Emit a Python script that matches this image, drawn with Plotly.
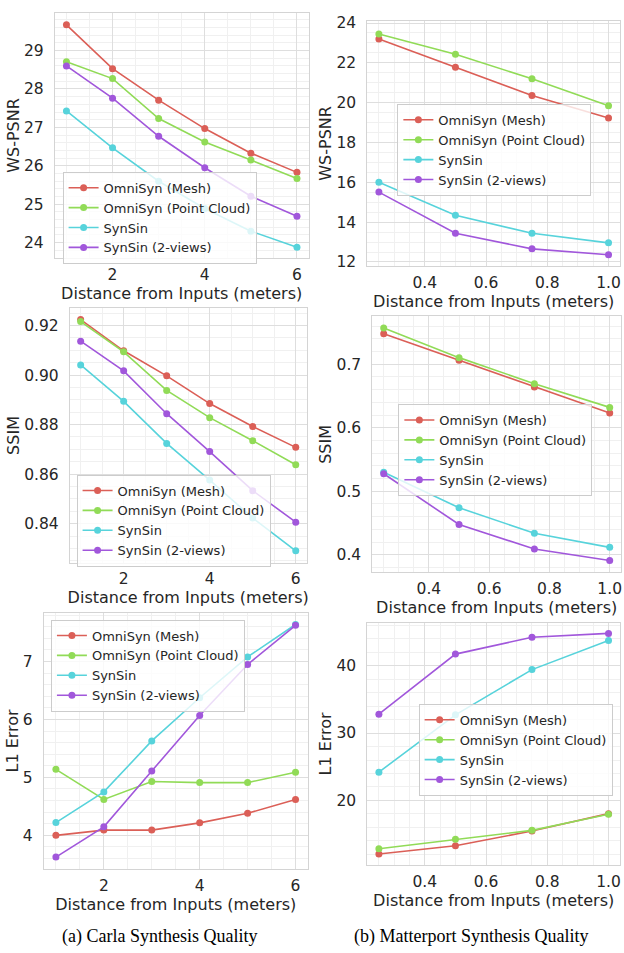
import plotly.graph_objects as go

# ---------------- data ----------------
series_names = ["OmniSyn (Mesh)", "OmniSyn (Point Cloud)", "SynSin", "SynSin (2-views)"]
colors = ["#db5f57", "#91db57", "#57d3db", "#a157db"]

carla_x = [1, 2, 3, 4, 5, 6]
matterport_x = [0.25, 0.5, 0.75, 1.0]

carla_wspsnr_mesh = [29.67, 28.53, 27.71, 26.97, 26.33, 25.83]
carla_wspsnr_pc = [28.71, 28.27, 27.23, 26.62, 26.15, 25.67]
carla_wspsnr_synsin = [27.43, 26.47, 25.60, 24.89, 24.30, 23.88]
carla_wspsnr_synsin2 = [28.60, 27.76, 26.77, 25.95, 25.21, 24.69]

mp_wspsnr_mesh = [23.20, 21.78, 20.36, 19.23]
mp_wspsnr_pc = [23.45, 22.43, 21.20, 19.84]
mp_wspsnr_synsin = [16.00, 14.35, 13.44, 12.96]
mp_wspsnr_synsin2 = [15.51, 13.44, 12.66, 12.36]

carla_ssim_mesh = [0.9224, 0.9098, 0.8997, 0.8885, 0.8792, 0.8708]
carla_ssim_pc = [0.9216, 0.9094, 0.8938, 0.8828, 0.8735, 0.8638]
carla_ssim_synsin = [0.9041, 0.8894, 0.8724, 0.8576, 0.8423, 0.8290]
carla_ssim_synsin2 = [0.9137, 0.9017, 0.8844, 0.8691, 0.8533, 0.8406]

mp_ssim_mesh = [0.7477, 0.7062, 0.6642, 0.6231]
mp_ssim_pc = [0.7570, 0.7103, 0.6693, 0.6320]
mp_ssim_synsin = [0.5300, 0.4741, 0.4340, 0.4118]
mp_ssim_synsin2 = [0.5276, 0.4477, 0.4092, 0.3910]

carla_l1_mesh = [4.00, 4.09, 4.09, 4.215, 4.38, 4.62]
carla_l1_pc = [5.14, 4.62, 4.93, 4.91, 4.91, 5.09]
carla_l1_synsin = [4.22, 4.75, 5.63, 6.375, 7.08, 7.64]
carla_l1_synsin2 = [3.625, 4.147, 5.11, 6.07, 6.95, 7.625]

mp_l1_mesh = [12.06, 13.28, 15.47, 18.05]
mp_l1_pc = [12.84, 14.25, 15.57, 17.95]
mp_l1_synsin = [24.2, 32.7, 39.4, 43.7]
mp_l1_synsin2 = [32.8, 41.7, 44.2, 44.77]

x_label = "Distance from Inputs (meters)"
captions = ["(a) Carla Synthesis Quality", "(b) Matterport Synthesis Quality"]

# ---------------- layout helpers ----------------
W, H = 624, 953
FONT = "DejaVu Sans"
TXT = "#262626"

def dx(l, r):
    return [l / W, r / W]

def dy(t, b):
    return [1 - b / H, 1 - t / H]

panels = [
    dict(x=carla_x, ys=[carla_wspsnr_mesh, carla_wspsnr_pc, carla_wspsnr_synsin, carla_wspsnr_synsin2],
         ylab="WS-PSNR", box=(55, 309, 7, 255), xr=[0.75, 6.25], yr=[23.6, 29.98],
         xd=2, xm=0.5, yd=1, ym=0.2, xf="d", yf="d", leg=(62.7, 167.7)),
    dict(x=matterport_x, ys=[mp_wspsnr_mesh, mp_wspsnr_pc, mp_wspsnr_synsin, mp_wspsnr_synsin2],
         ylab="WS-PSNR", box=(368, 621, 15, 263), xr=[0.2125, 1.0375], yr=[11.8, 24.11],
         xd=0.2, xm=0.05, yd=2, ym=0.5, xf=".1f", yf="d", leg=(398, 99)),
    dict(x=carla_x, ys=[carla_ssim_mesh, carla_ssim_pc, carla_ssim_synsin, carla_ssim_synsin2],
         ylab="SSIM", box=(70, 307, 306, 563), xr=[0.75, 6.25], yr=[0.8243, 0.9269],
         xd=2, xm=0.5, yd=0.02, ym=0.005, xf="d", yf=".2f", leg=(76.7, 474)),
    dict(x=matterport_x, ys=[mp_ssim_mesh, mp_ssim_pc, mp_ssim_synsin, mp_ssim_synsin2],
         ylab="SSIM", box=(373, 622, 314, 573), xr=[0.2125, 1.0375], yr=[0.3724, 0.7752],
         xd=0.2, xm=0.05, yd=0.1, ym=0.02, xf=".1f", yf=".1f", leg=(399, 402.7)),
    dict(x=carla_x, ys=[carla_l1_mesh, carla_l1_pc, carla_l1_synsin, carla_l1_synsin2],
         ylab="L1 Error", box=(44, 308, 614, 873), xr=[0.75, 6.25], yr=[3.42, 7.84],
         xd=2, xm=0.5, yd=1, ym=0.2, xf="d", yf="d", leg=(51, 620.7)),
    dict(x=matterport_x, ys=[mp_l1_mesh, mp_l1_pc, mp_l1_synsin, mp_l1_synsin2],
         ylab="L1 Error", box=(368, 621, 624, 869), xr=[0.2125, 1.0375], yr=[10.44, 46.34],
         xd=0.2, xm=0.05, yd=10, ym=2, xf=".1f", yf="d", leg=(419.3, 706)),
]

fig = go.Figure()
layout = dict(
    width=W, height=H,
    margin=dict(l=0, r=0, t=0, b=0),
    paper_bgcolor="white", plot_bgcolor="white",
    font=dict(family=FONT, color=TXT),
    showlegend=True,
)

for i, p in enumerate(panels, start=1):
    sfx = "" if i == 1 else str(i)
    xa, ya = "x" + sfx, "y" + sfx
    leg = "legend" + sfx
    for name, col, yv in zip(series_names, colors, p["ys"]):
        fig.add_trace(go.Scatter(
            x=p["x"], y=yv, name=name, mode="lines+markers",
            line=dict(color=col, width=1.6),
            marker=dict(color=col, size=7),
            xaxis=xa, yaxis=ya, legend=leg,
        ))
    l, r, t, b = p["box"]
    common = dict(
        showline=True, mirror=True, linecolor="#d4d4d4", linewidth=1.2,
        showgrid=True, gridcolor="#dedede", gridwidth=1,
        zeroline=False, ticks="",
        tickfont=dict(family=FONT, size=15.5, color=TXT),
    )
    layout["xaxis" + sfx] = dict(
        common, domain=dx(l, r), anchor=ya, range=p["xr"], ticklabelstandoff=2,
        tick0=0, dtick=p["xd"], tickformat=p["xf"],
        minor=dict(dtick=p["xm"], tick0=0, showgrid=True, gridcolor="#f0f0f0", gridwidth=1),
        title=dict(text=x_label, font=dict(family=FONT, size=16, color=TXT), standoff=1),
    )
    layout["yaxis" + sfx] = dict(
        common, domain=dy(t, b), anchor=xa, range=p["yr"], ticklabelstandoff=7,
        tick0=0, dtick=p["yd"], tickformat=p["yf"],
        minor=dict(dtick=p["ym"], tick0=0, showgrid=True, gridcolor="#f0f0f0", gridwidth=1),
        title=dict(text=p["ylab"], font=dict(family=FONT, size=16, color=TXT), standoff=0),
    )
    lx, lt = p["leg"]
    layout[leg] = dict(
        x=lx / W, y=1 - lt / H, xanchor="left", yanchor="top",
        xref="paper", yref="paper",
        bgcolor="rgba(255,255,255,0.8)", bordercolor="#cccccc", borderwidth=1,
        font=dict(family=FONT, size=13, color=TXT),
        itemwidth=30, tracegroupgap=0,
    )

layout["annotations"] = [
    dict(text=captions[0], x=160 / W, y=1 - 941 / H, xref="paper", yref="paper",
         showarrow=False, xanchor="center", yanchor="middle",
         font=dict(family="Liberation Serif", size=18, color="black")),
    dict(text=captions[1], x=472 / W, y=1 - 941 / H, xref="paper", yref="paper",
         showarrow=False, xanchor="center", yanchor="middle",
         font=dict(family="Liberation Serif", size=18, color="black")),
]

fig.update_layout(**layout)
fig.write_html(
    "out.html",
    config={"displayModeBar": False},
    post_script="document.body.style.margin='0';document.body.style.overflow='hidden';",
)
